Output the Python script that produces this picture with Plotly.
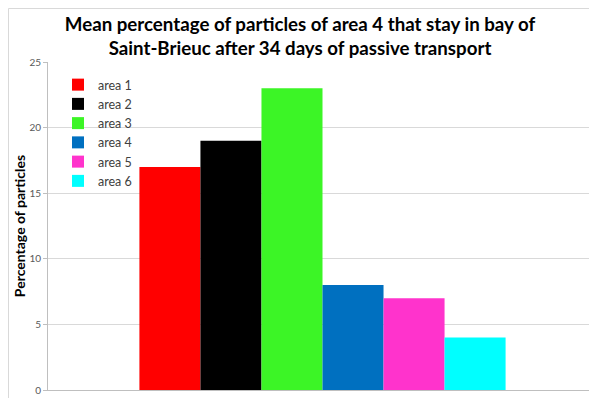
import plotly.graph_objects as go

areas = ["area 1", "area 2", "area 3", "area 4", "area 5", "area 6"]
values = [17, 19, 23, 8, 7, 4]
colors = ["#ff0000", "#000000", "#3cf526", "#0070c0", "#ff33cc", "#00ffff"]

fig = go.Figure()
for name, v, c in zip(areas, values, colors):
    fig.add_trace(go.Bar(x=[0], y=[v], name=name, marker=dict(color=c, line=dict(width=0))))

# page body has an 8px margin, so the figure is sized to fill the rest of the window
W, H = 589, 390
ml, mr, mt, mb = 40, 0, 54, 8
pw, ph = W - ml - mr, H - mt - mb

fig.update_layout(
    width=W, height=H,
    margin=dict(l=ml, r=mr, t=mt, b=mb, pad=0),
    paper_bgcolor="white", plot_bgcolor="white",
    barmode="group", bargap=0.333, bargroupgap=0,
    font=dict(family="Lato, Open Sans, sans-serif", color="#404040"),
    title=dict(
        text="Mean percentage of particles of area 4 that stay in bay of<br>Saint-Brieuc after 34 days of passive transport",
        x=(300 - 8) / W, xanchor="center", xref="container",
        y=1 - 23 / H, yanchor="middle", yref="container",
        font=dict(family="Lato, Open Sans, sans-serif", size=18.7, color="#000000", weight="bold"),
    ),
    xaxis=dict(range=[-0.5, 0.5], showticklabels=False, showgrid=False, zeroline=False,
               showline=True, linecolor="#bfbfbf", linewidth=1, ticks=""),
    yaxis=dict(range=[0, 25], dtick=5, tick0=0, showgrid=True, gridcolor="#d9d9d9", gridwidth=1,
               zeroline=False, showline=True, linecolor="#bfbfbf", linewidth=1,
               ticks="outside", ticklen=4, tickcolor="#bfbfbf",
               tickfont=dict(size=10, color="#595959"),
               title=dict(text="Percentage of particles", standoff=0,
                          font=dict(size=14, color="#000000", weight="bold"))),
    legend=dict(x=(58 - 8 - ml) / pw, y=(ph + mt - (70 - 8)) / ph, xanchor="left", yanchor="top",
                bgcolor="rgba(0,0,0,0)", font=dict(size=12.5, color="#404040"),
                tracegroupgap=0, itemwidth=30),
    showlegend=True,
    shapes=[dict(type="rect", xref="paper", yref="paper",
                 x0=(0.5 - ml) / pw, x1=1.1, y0=-0.2, y1=(ph + mt - 0.5) / ph,
                 line=dict(color="#d9d9d9", width=1), fillcolor="rgba(0,0,0,0)", layer="below")],
)

fig.write_html("out.html")
